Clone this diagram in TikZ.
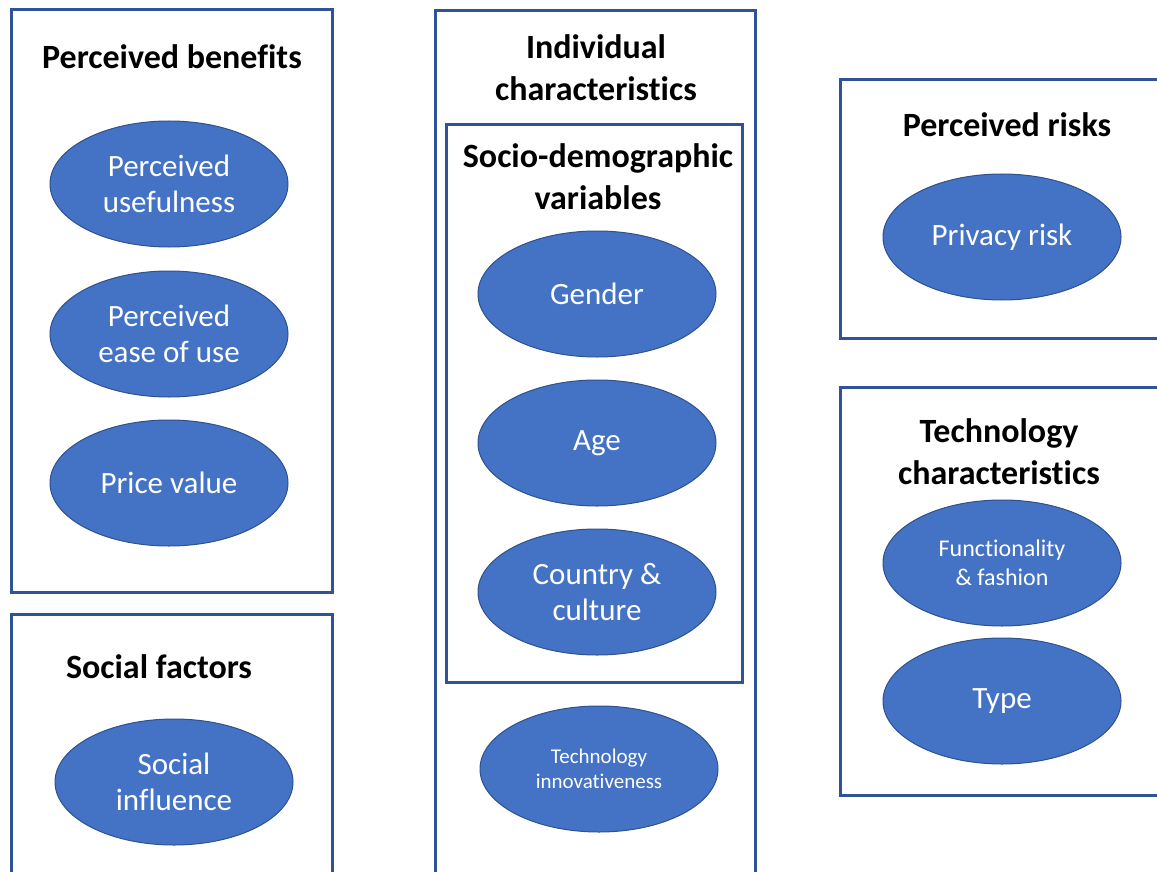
\documentclass[tikz,border=0pt]{standalone}
\usepackage{fontspec}
\setmainfont{Carlito}[Ligatures=NoCommon]
\usetikzlibrary{shapes.geometric}

\definecolor{boxblue}{HTML}{2F529A}
\definecolor{fillblue}{HTML}{4472C4}
\definecolor{rimblue}{HTML}{2F528F}

\newcommand\ew{238pt}
\newcommand\eh{126pt}
\newcommand\titlefont{\fontsize{34}{42}\selectfont\bfseries}
\newcommand\ovalfont{\fontsize{31}{36}\selectfont}

\begin{document}
\begin{tikzpicture}[x=1pt,y=-1pt,
    frame/.style={draw=boxblue,line width=3pt},
    heading/.style={align=center,font=\titlefont,inner sep=0pt},
    oval/.style={ellipse,draw=rimblue,line width=1pt,fill=fillblue,text=white,
      minimum width=\ew,minimum height=\eh,inner sep=0pt,align=center,font=\ovalfont}]
    \clip (0,0) rectangle (1157,872);
    \fill[white] (0,0) rectangle (1157,872);

    % left column
    \draw[frame] (11,10) rectangle (332,592);
    \node[heading] (benefits) at (172,57) {Perceived benefits};
    \node[oval] (usefulness) at (169,184) {Perceived\\usefulness};
    \node[oval] (easeofuse) at (169,334) {Perceived\\ease of use};
    \node[oval] (pricevalue) at (169,483) {Price value};

    \draw[frame] (11,614) rectangle (332,890);
    \node[heading] (social) at (159,667) {Social factors};
    \node[oval] (influence) at (174,782) {Social\\influence};

    % middle column
    \draw[frame] (435,11) rectangle (755,890);
    \node[heading] (individual) at (596,68) {Individual\\characteristics};
    \draw[frame] (446,125) rectangle (742,682);
    \node[heading] (sociodemo) at (598,177) {Socio-demographic\\variables};
    \node[oval] (gender) at (597,294) {Gender};
    \node[oval] (age) at (597,443) {Age};
    \node[oval] (country) at (597,592) {Country \&\\culture};
    \node[oval,font=\fontsize{21}{25}\selectfont] (innovativeness) at (599,769) {Technology\\innovativeness};

    % right column
    \draw[frame] (840,80) rectangle (1180,338);
    \node[heading] (risks) at (1007,125) {Perceived risks};
    \node[oval] (privacy) at (1002,237) {Privacy risk};

    \draw[frame] (840,387) rectangle (1180,795);
    \node[heading] (techchar) at (999,452) {Technology\\characteristics};
    \node[oval,font=\fontsize{24}{29}\selectfont] (function) at (1002,563) {Functionality\\\& fashion};
    \node[oval] (type) at (1002,701) {Type};
\end{tikzpicture}
\end{document}
